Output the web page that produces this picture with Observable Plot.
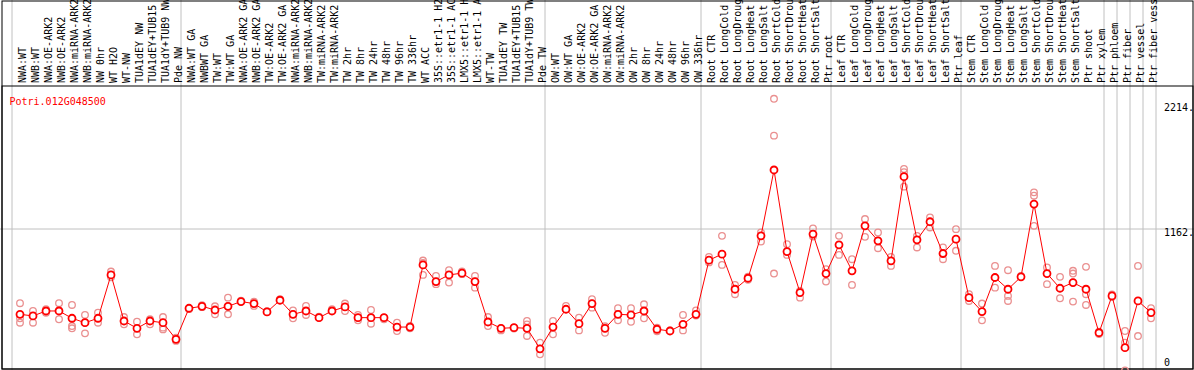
<!DOCTYPE html>
<html><head><meta charset="utf-8">
<script src="https://cdn.jsdelivr.net/npm/d3@7"></script>
<script src="https://cdn.jsdelivr.net/npm/@observablehq/plot@0.6"></script>
<style>
html,body{margin:0;padding:0;background:#fff;}
#chart svg{display:block;}
</style></head><body><div id="chart"></div>
<script>
const geneName = "Potri.012G048500";
const categories = [
  "NWA:WT","NWB:WT","NWA:OE-ARK2","NWB:OE-ARK2","NWA:miRNA-ARK2","NWB:miRNA-ARK2","NW 0hr","WT H2O","WT-NW","TUA1dEY NW","TUA1dEY+TUB15","TUA1dY+TUB9 NW","Pde NW",
  "NWA:WT GA","NWBWT GA","TW:WT","TW:WT GA","NWA:OE-ARK2 GA","NWB:OE-ARK2 GA","TW:OE-ARK2","TW:OE-ARK2 GA","NWA:miRNA-ARK2","NWB:miRNA-ARK2","TW:miRNA-ARK2","TW:miRNA-ARK2",
  "TW 2hr","TW 8hr","TW 24hr","TW 48hr","TW 96hr","TW 336hr","WT ACC","35S::etr1-1 H2","35S::etr1-1 AC","LMX5::etr1-1 H","LMX5::etr1-1 A","WT-TW","TUA1dEY TW","TUA1dEY+TUB15","TUA1dY+TUB9 TW","Pde TW",
  "OW:WT","OW:WT GA","OW:OE-ARK2","OW:OE-ARK2 GA","OW:miRNA-ARK2","OW:miRNA-ARK2","OW 2hr","OW 8hr","OW 24hr","OW 48hr","OW 96hr","OW 336hr",
  "Root CTR","Root LongCold","Root LongDroug","Root LongHeat","Root LongSalt","Root ShortCold","Root ShortDrou","Root ShortHeat","Root ShortSalt","Ptr root",
  "Leaf CTR","Leaf LongCold","Leaf LongDroug","Leaf LongHeat","Leaf LongSalt","Leaf ShortCold","Leaf ShortDrou","Leaf ShortHeat","Leaf ShortSalt","Ptr leaf",
  "Stem CTR","Stem LongCold","Stem LongDroug","Stem LongHeat","Stem LongSalt","Stem ShortCold","Stem ShortDrou","Stem ShortHeat","Stem ShortSalt","Ptr shoot",
  "Ptr xylem","Ptr phloem","Ptr fiber","Ptr vessel","Ptr fiber vess"
];
const means = [
  470,457,497,497,438,402,438,789,416,357,416,402,268,
  519,535,505,535,573,557,489,584,470,497,443,497,
  530,443,443,443,367,367,870,735,789,803,735,408,357,362,357,191,
  367,511,394,557,357,470,465,497,349,335,389,470,
  908,957,673,762,1105,1638,978,646,1119,800,
  1032,822,1186,1065,903,1584,1073,1219,962,1078,
  605,492,768,673,773,1362,800,681,727,673,
  321,619,200,578,484
];
const replicates = [
  [560,438,402],[497,402,457],[511,483,497],[560,430,497],[546,438,375,357],[465,316,402],[483,402,438],[816,789,770],[448,389,416],[410,308,357],[430,389,416],[448,362,348,402],[281,268,255],
  [519,512],[543,528],[535,470,505],[605,470,535],[573,580],[573,538,557],[489,495],[592,584],[502,438,470],[538,465,497],[443,450],[511,497],
  [557,497,530],[465,421,443],[505,394,443],[443,430],[402,335,367],[375,357,367],[905,885,789],[781,714,735],[827,727,789],[816,803,795],[781,686,735],[448,375,408],[357,340],[362,355],[416,389,295,357],[240,146,191],
  [416,308,367],[538,511],[443,340,394],[592,524,557],[373,321,357],[519,421,470],[519,410,465],[551,438,497],[362,332,349],[340,335],[465,340,389],[502,470,460],
  [935,908,890],[1105,870,957],[708,633,673],[775,750,762],[1132,1059,1105],[2214,1916,800],[1038,951,978],[660,605,646],[1165,1119,1100],[835,735,800],
  [1105,951,1032],[916,708,822],[1241,1097,1186],[1132,1005,1065],[935,862,903],[1646,1620,1503],[1105,1011,1073],[1254,1173,1219],[1011,916,962],[1159,984,1078],
  [633,578,605],[557,421,492],[862,686,768],[827,619,578,673],[780,773],[1457,1430,1186],[849,714,800],[773,600,681],[822,800,573,727],[854,633,546,673],
  [330,321,310],[630,619,610],[335,240,16],[862,294],[519,438,484]
];
const groupStarts = [0, 13, 41, 53, 63, 73, 84, 85, 86, 87, 88];
const yTicks = [0, 1162, 2214];
const yTickLabels = ["0", "1162.", "2214."];

const meanRows = means.map((v, i) => ({i, v}));
const repRows = replicates.flatMap((arr, i) => arr.map(v => ({i, v})));
const labelRows = categories.map((name, i) => ({i, name}));
const tickRows = yTicks.map((v, k) => ({v, label: yTickLabels[k]}));
const yMax = d3.max(yTicks);
const yMid = yTicks[1];
const grid = "#c0c0c0";
const borderInsets = {insetLeft: 1.5, insetTop: 0.5, insetRight: 1.5, insetBottom: 1.5};

const chart = Plot.plot({
  width: 1194,
  height: 370,
  margin: 0,
  style: {fontFamily: "'DejaVu Sans Mono', monospace", fontSize: "10px", background: "#fff", color: "#000"},
  x: {type: "linear", domain: [0, categories.length - 1], range: [19.5, 1150.5], axis: null},
  y: {domain: [0, yMax], range: [371.9, 98.3], axis: null},
  marks: [
    Plot.ruleX(groupStarts, {x: d => d, dx: -8, stroke: grid, strokeWidth: 1}),
    Plot.ruleY([yMid], {stroke: grid, strokeWidth: 1, dy: 0.2}),
    Plot.frame({stroke: "#000", ...borderInsets}),
    Plot.frame({stroke: "#000", ...borderInsets, insetTop: 85.5}),
    Plot.text(labelRows, {x: "i", text: "name", frameAnchor: "top", rotate: -90, textAnchor: "start", dy: 82.5, dx: -1, fill: "#000"}),
    Plot.text([geneName], {frameAnchor: "top-left", dx: 9, dy: 97, fill: "#ff0000", textAnchor: "start"}),
    Plot.dot(repRows, {x: "i", y: "v", r: 3.3, stroke: "#ea9090", strokeWidth: 1.3}),
    Plot.line(meanRows, {x: "i", y: "v", stroke: "#ff0000", strokeWidth: 1}),
    Plot.dot(meanRows, {x: "i", y: "v", r: 3.5, stroke: "#ff0000", fill: "#fff", strokeWidth: 1.8}),
    Plot.text(tickRows.filter(d => d.v === yMax), {x: () => categories.length, y: "v", text: "label", textAnchor: "start", lineAnchor: "top", dy: 5}),
    Plot.text(tickRows.filter(d => d.v > 0 && d.v < yMax), {x: () => categories.length, y: "v", text: "label", textAnchor: "start", lineAnchor: "top", dy: 0.5}),
    Plot.text(tickRows.filter(d => d.v === 0), {x: () => categories.length, y: "v", text: "label", textAnchor: "start", dy: -10})
  ]
});
document.getElementById("chart").appendChild(chart);
</script>
</body></html>
